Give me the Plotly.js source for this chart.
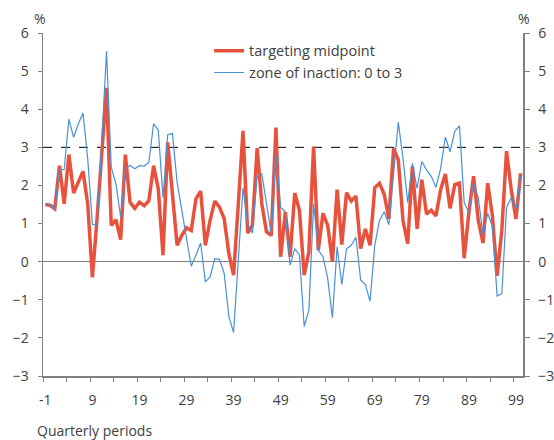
<!DOCTYPE html>
<html>
<head>
<meta charset="utf-8">
<script src="https://cdn.plot.ly/plotly-3.0.1.min.js"></script>
<style>html,body{margin:0;padding:0;background:#fff;}#chart{width:554px;height:440px;}</style>
</head>
<body>
<div id="chart"></div>
<script>
// Quarterly periods -1 .. 100
const periods = [];
for (let p = -1; p <= 100; p++) periods.push(p);

const targetingMidpoint = [
  1.50, 1.48, 1.39, 2.52, 1.52, 2.81, 1.80, 2.08, 2.37, 1.52,
  -0.41, 1.15, 2.95, 4.56, 0.95, 1.10, 0.58, 2.81, 1.56, 1.40,
  1.56, 1.47, 1.60, 2.52, 1.91, 0.17, 3.13, 1.78, 0.43, 0.69,
  0.89, 0.82, 1.65, 1.85, 0.43, 1.08, 1.59, 1.43, 1.13, 0.21,
  -0.35, 1.50, 3.43, 0.75, 0.95, 2.98, 1.52, 0.78, 0.69, 3.52,
  0.13, 1.30, 0.13, 1.80, 1.34, -0.35, 0.26, 3.02, 0.30, 1.27,
  0.95, 0.00, 1.89, 0.45, 1.81, 1.59, 1.72, 0.34, 0.86, 0.43,
  1.94, 2.06, 1.77, 1.12, 2.97, 2.67, 1.08, 0.47, 2.50, 0.86,
  2.15, 1.25, 1.35, 1.20, 1.89, 2.30, 1.40, 2.02, 2.06, 0.09,
  1.29, 2.24, 1.08, 0.49, 2.06, 1.20, -0.37, 0.82, 2.90, 1.89,
  1.12, 2.32
];

const zoneOfInaction = [
  1.50, 1.50, 1.38, 2.41, 2.42, 3.74, 3.26, 3.61, 3.90, 2.70,
  0.98, 0.95, 3.20, 5.52, 2.48, 2.04, 1.17, 2.43, 2.53, 2.44,
  2.52, 2.51, 2.61, 3.62, 3.45, 1.68, 3.33, 3.36, 2.08, 1.34,
  0.65, -0.12, 0.17, 0.49, -0.53, -0.40, 0.08, 0.06, -0.31, -1.44,
  -1.86, 0.10, 1.94, 0.98, 0.75, 2.23, 2.30, 1.52, 0.73, 2.82,
  1.43, 1.30, -0.09, 0.34, 0.17, -1.70, -1.27, 1.52, 0.30, 0.13,
  -0.44, -1.47, 0.39, -0.60, 0.34, 0.43, 0.64, -0.48, -0.60, -1.04,
  0.43, 1.08, 1.31, 0.97, 2.40, 3.66, 2.71, 1.55, 2.58, 1.92,
  2.63, 2.41, 2.24, 1.95, 2.45, 3.27, 2.88, 3.42, 3.56, 1.55,
  1.29, 2.06, 1.68, 0.69, 1.27, 0.92, -0.90, -0.84, 1.42, 1.68,
  1.38, 2.24
];

const xTickVals = [-1, 9, 19, 29, 39, 49, 59, 69, 79, 89, 99];
const xTickText = ['-1', '9', '19', '29', '39', '49', '59', '69', '79', '89', '99'];
const zoneUpper = 3;

const FONT = 'Open Sans, Noto Sans, sans-serif';
const TXT = '#404040';
const AX = '#808080';

const traces = [
  {
    x: periods, y: targetingMidpoint, type: 'scatter', mode: 'lines',
    name: 'targeting midpoint',
    line: {color: '#e8523c', width: 3.5}
  },
  {
    x: periods, y: zoneOfInaction, type: 'scatter', mode: 'lines',
    name: 'zone of inaction: 0 to 3',
    line: {color: '#4a90d9', width: 1.2}
  },
  {
    // empty trace so the right-hand axis is drawn
    x: [], y: [], type: 'scatter', mode: 'lines', yaxis: 'y2',
    showlegend: false, hoverinfo: 'skip'
  }
];

const layout = {
  width: 554, height: 440,
  margin: {l: 42.7, r: 30.6, t: 33, b: 64, pad: 0},
  paper_bgcolor: '#fff', plot_bgcolor: '#fff',
  font: {family: FONT, size: 14, color: TXT},
  showlegend: true,
  legend: {
    x: 0.346, y: 0.995, xanchor: 'left', yanchor: 'top',
    bgcolor: 'rgba(0,0,0,0)', borderwidth: 0,
    font: {family: FONT, size: 14.5, color: TXT},
    tracegroupgap: 0
  },
  xaxis: {
    range: [-1.5, 100.5], type: 'linear',
    tickmode: 'array', tickvals: xTickVals, ticktext: xTickText,
    ticks: '', showgrid: false, zeroline: false,
    showline: true, linecolor: AX, linewidth: 1.5,
    ticklabelstandoff: 11,
    tickfont: {family: FONT, size: 14, color: TXT},
    minor: {ticks: 'outside', tick0: -1.5, dtick: 5, ticklen: 4, tickcolor: AX, tickwidth: 1, showgrid: false}
  },
  yaxis: {
    range: [-3, 6], dtick: 1, tick0: 0,
    ticks: 'outside', ticklen: 4, tickcolor: AX, tickwidth: 1,
    showgrid: false, zeroline: true, zerolinecolor: AX, zerolinewidth: 1.5,
    showline: true, linecolor: AX, linewidth: 1.5,
    ticklabelstandoff: 6,
    tickfont: {family: FONT, size: 14, color: TXT}
  },
  yaxis2: {
    range: [-3, 6], dtick: 1, tick0: 0, overlaying: 'y', side: 'right', anchor: 'x',
    ticks: 'outside', ticklen: 5, tickcolor: AX, tickwidth: 1,
    showgrid: false, zeroline: false,
    showline: true, linecolor: AX, linewidth: 1.5,
    ticklabelstandoff: 6,
    tickfont: {family: FONT, size: 14, color: TXT}
  },
  shapes: [
    {type: 'line', xref: 'paper', x0: 0, x1: 1, yref: 'y', y0: zoneUpper, y1: zoneUpper,
     line: {color: '#000', width: 1, dash: 'dash'}, layer: 'below'}
  ],
  annotations: [
    {text: '%', xref: 'paper', yref: 'paper', x: -0.006, y: 1.041, xanchor: 'center', yanchor: 'middle', showarrow: false, font: {family: FONT, size: 14, color: TXT}},
    {text: '%', xref: 'paper', yref: 'paper', x: 1.003, y: 1.041, xanchor: 'center', yanchor: 'middle', showarrow: false, font: {family: FONT, size: 14, color: TXT}},
    {text: 'Quarterly periods', xref: 'paper', yref: 'paper', x: -0.016, y: -0.160, xanchor: 'left', yanchor: 'middle', showarrow: false, font: {family: FONT, size: 14, color: TXT}}
  ]
};

Plotly.newPlot('chart', traces, layout, {displayModeBar: false, staticPlot: true});
</script>
</body>
</html>
